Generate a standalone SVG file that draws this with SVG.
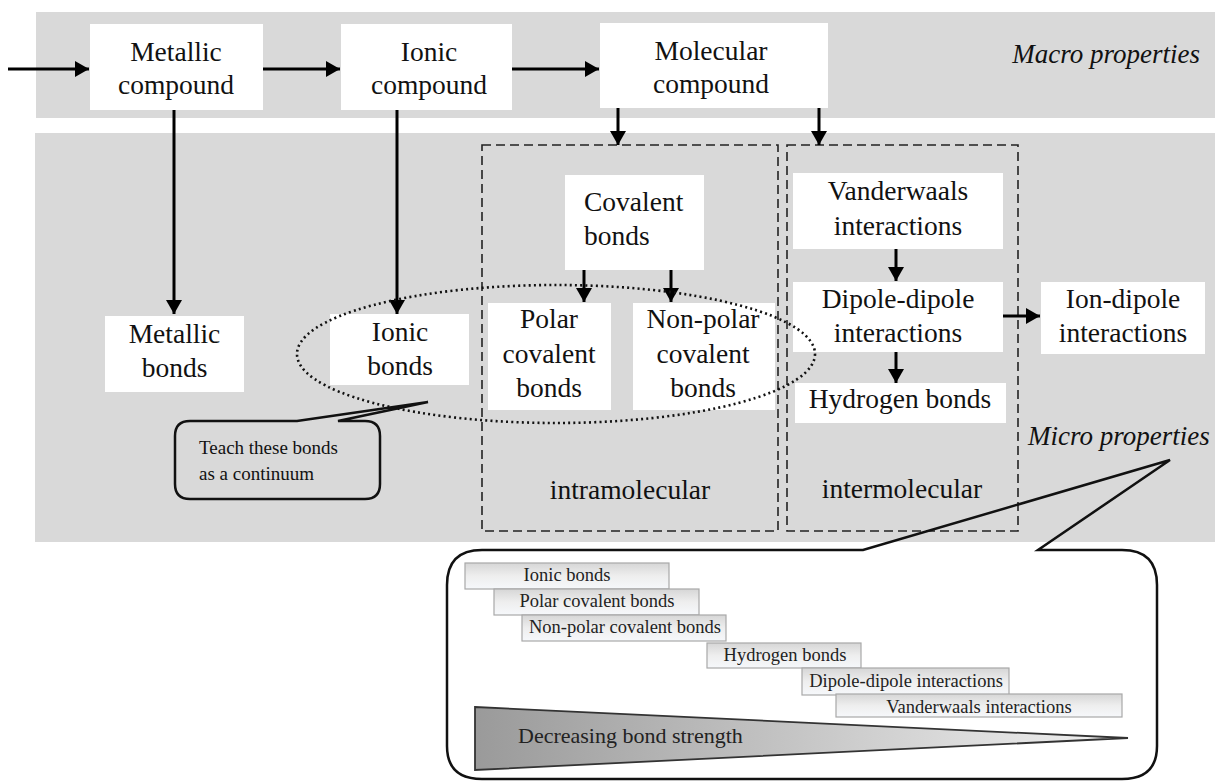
<svg xmlns="http://www.w3.org/2000/svg" width="1215" height="782" viewBox="0 0 1215 782" font-family="'Liberation Serif', 'Times New Roman', serif">
<style>
text{font-family:"Liberation Serif","Times New Roman",serif;fill:#111}
.t{font-size:27.5px;text-anchor:middle}
.it{font-size:27px;font-style:italic}
.box{fill:#fff}
.conn{stroke:#000;stroke-width:3;fill:none;marker-end:url(#ah)}
.dash{fill:none;stroke:#222;stroke-width:1.6;stroke-dasharray:9,5}
.bar{fill:url(#barg);stroke:#a8a8a8;stroke-width:1.2}
.bt{font-size:18.5px;text-anchor:middle;fill:#222}
</style>
<defs>
<marker id="ah" markerUnits="userSpaceOnUse" markerWidth="15" markerHeight="16" refX="14" refY="8" orient="auto">
<path d="M0,0 L14,8 L0,16 z" fill="#000"/>
</marker>
<linearGradient id="barg" x1="0" y1="0" x2="0" y2="1">
<stop offset="0" stop-color="#d6d6d6"/>
<stop offset="0.5" stop-color="#eeeeee"/>
<stop offset="1" stop-color="#f6f8fb"/>
</linearGradient>
<linearGradient id="trig" x1="0" y1="0" x2="1" y2="0">
<stop offset="0" stop-color="#9a9a9a"/>
<stop offset="1" stop-color="#f2f2f2"/>
</linearGradient>
</defs>

<g id="bands">
<rect x="36" y="12" width="1179" height="106" fill="#d9d9d9"/>
<rect x="35" y="133" width="1180" height="409" fill="#d9d9d9"/>
</g>

<g id="macro-label"><text class="it" x="1200" y="63" text-anchor="end">Macro properties</text></g>
<g id="micro-label"><text class="it" x="1028" y="445">Micro properties</text></g>

<g id="intramolecular-group">
<rect class="dash" x="482" y="145" width="296" height="386"/>
<text class="t" x="630" y="499">intramolecular</text>
</g>
<g id="intermolecular-group">
<rect class="dash" x="787" y="145" width="231" height="386"/>
<text class="t" x="902" y="498">intermolecular</text>
</g>

<g id="metallic-compound"><rect class="box" x="90" y="24" width="173" height="86"/>
<text class="t" x="176" y="61">Metallic</text><text class="t" x="176" y="94">compound</text></g>
<g id="ionic-compound"><rect class="box" x="341" y="24" width="171" height="86"/>
<text class="t" x="429" y="61">Ionic</text><text class="t" x="429" y="94">compound</text></g>
<g id="molecular-compound"><rect class="box" x="600" y="23" width="228" height="85"/>
<text class="t" x="711" y="60">Molecular</text><text class="t" x="711" y="93">compound</text></g>

<g id="metallic-bonds"><rect class="box" x="105" y="316" width="139" height="76"/>
<text class="t" x="174.5" y="343">Metallic</text><text class="t" x="174.5" y="377">bonds</text></g>
<g id="ionic-bonds"><rect class="box" x="330" y="314" width="139" height="71"/>
<text class="t" x="400" y="341">Ionic</text><text class="t" x="400" y="375">bonds</text></g>

<g id="covalent-bonds"><rect class="box" x="565" y="175" width="139" height="95"/>
<text x="584" y="211" style="font-size:27.5px">Covalent</text><text x="584" y="245" style="font-size:27.5px">bonds</text></g>
<g id="polar-covalent"><rect class="box" x="488" y="303" width="123" height="107"/>
<text class="t" x="549" y="328">Polar</text><text class="t" x="549" y="363">covalent</text><text class="t" x="549" y="397">bonds</text></g>
<g id="nonpolar-covalent"><rect class="box" x="633" y="303" width="142" height="107"/>
<text class="t" x="703" y="328">Non-polar</text><text class="t" x="703" y="363">covalent</text><text class="t" x="703" y="397">bonds</text></g>

<g id="vanderwaals"><rect class="box" x="793" y="173" width="210" height="76"/>
<text class="t" x="898" y="200">Vanderwaals</text><text class="t" x="898" y="235">interactions</text></g>
<g id="dipole-dipole"><rect class="box" x="793" y="282" width="210" height="70"/>
<text class="t" x="898" y="308">Dipole-dipole</text><text class="t" x="898" y="342">interactions</text></g>
<g id="hydrogen-bonds"><rect class="box" x="795" y="383" width="211" height="40"/>
<text class="t" x="900" y="408">Hydrogen bonds</text></g>
<g id="ion-dipole"><rect class="box" x="1041" y="282" width="164" height="72"/>
<text class="t" x="1123" y="308">Ion-dipole</text><text class="t" x="1123" y="342">interactions</text></g>

<g id="connectors">
<line class="conn" x1="8" y1="69" x2="89" y2="69"/>
<line class="conn" x1="263" y1="69" x2="340" y2="69"/>
<line class="conn" x1="512" y1="69" x2="599" y2="69"/>
<line class="conn" x1="174" y1="110" x2="174" y2="314"/>
<line class="conn" x1="397" y1="110" x2="397" y2="314"/>
<line class="conn" x1="618" y1="108" x2="618" y2="145"/>
<line class="conn" x1="819" y1="108" x2="819" y2="145"/>
<line class="conn" x1="584" y1="270" x2="584" y2="302"/>
<line class="conn" x1="671" y1="270" x2="671" y2="302"/>
<line class="conn" x1="896" y1="249" x2="896" y2="281"/>
<line class="conn" x1="896" y1="352" x2="896" y2="383"/>
<line class="conn" x1="1003" y1="316" x2="1040" y2="316"/>
</g>

<g id="continuum-ellipse">
<ellipse cx="556" cy="354" rx="259" ry="69" fill="none" stroke="#111" stroke-width="2.6" stroke-dasharray="2,3.2"/>
</g>

<g id="teach-callout">
<path d="M190 421 L297 421 L428 402 L338 421 L365 421 Q380 421 380 436 L380 484 Q380 499 365 499 L190 499 Q175 499 175 484 L175 436 Q175 421 190 421 Z" fill="#d9d9d9" stroke="#111" stroke-width="2.5" stroke-linejoin="miter"/>
<text x="199" y="454" style="font-size:19px">Teach these bonds</text>
<text x="199" y="480" style="font-size:19px">as a continuum</text>
</g>

<g id="strength-callout">
<path d="M482 550 L863 550 L1170 460 L1038 550 L1122 550 Q1157 550 1157 585 L1157 746 Q1157 779 1122 779 L482 779 Q447 779 447 746 L447 585 Q447 550 482 550 Z" fill="none" stroke="#111" stroke-width="2.5"/>
<rect class="bar" x="465" y="563" width="204" height="26"/>
<text class="bt" x="567" y="581">Ionic bonds</text>
<rect class="bar" x="494" y="589" width="205" height="26"/>
<text class="bt" x="597" y="607">Polar covalent bonds</text>
<rect class="bar" x="522" y="615" width="204" height="26"/>
<text class="bt" x="625" y="633">Non-polar covalent bonds</text>
<rect class="bar" x="707" y="643" width="154" height="25"/>
<text class="bt" x="785" y="661">Hydrogen bonds</text>
<rect class="bar" x="802" y="668" width="207" height="27"/>
<text class="bt" x="906" y="687">Dipole-dipole interactions</text>
<rect class="bar" x="836" y="694" width="286" height="23"/>
<text class="bt" x="979" y="713">Vanderwaals interactions</text>
<path d="M475 707 L1128 738 L475 770 Z" fill="url(#trig)" stroke="#333" stroke-width="1.8"/>
<text x="518" y="743" style="font-size:22px;fill:#222">Decreasing bond strength</text>
</g>
</svg>
